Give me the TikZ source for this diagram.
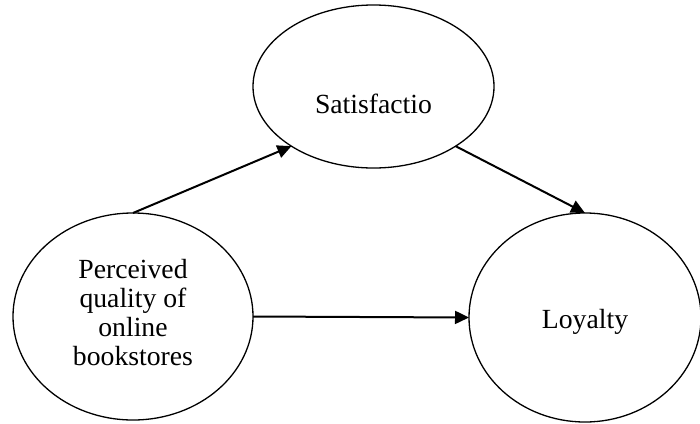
\documentclass[tikz,border=0pt]{standalone}
\usepackage{fontspec}
\setmainfont{Liberation Serif}
\usetikzlibrary{shapes.geometric,arrows.meta}
\begin{document}
\begin{tikzpicture}[x=1pt,y=-1pt,
  oval/.style={ellipse,draw,line width=1.3pt,inner sep=0pt,outer sep=0pt},
  link/.style={line width=2pt,-{Triangle[length=14pt,width=13pt]}},
  lbl/.style={font=\fontsize{27.7}{28.7}\selectfont,align=center,inner sep=0pt}]
\useasboundingbox (0,0) rectangle (700,423);
\node[oval,minimum width=241pt,minimum height=163pt] (S) at (373.5,86.5) {};
\node[oval,minimum width=240pt,minimum height=207pt] (P) at (133,316.5) {};
\node[oval,minimum width=232pt,minimum height=209pt] (L) at (585,317.5) {};
\node[lbl,anchor=base] (St) at ([yshift=-26.5pt]S.center) {Satisfactio};
\node[lbl,anchor=base] (Lt) at ([yshift=-10.5pt]L.center) {Loyalty};
\node[lbl] (Pt) at ([yshift=4pt]P.center) {Perceived\\quality of\\online\\bookstores};
\draw[link] (P.north) -- (S.216);
\draw[link] (S.324) -- (L.north);
\draw[link] (P.east) -- (L.west);
\end{tikzpicture}
\end{document}
